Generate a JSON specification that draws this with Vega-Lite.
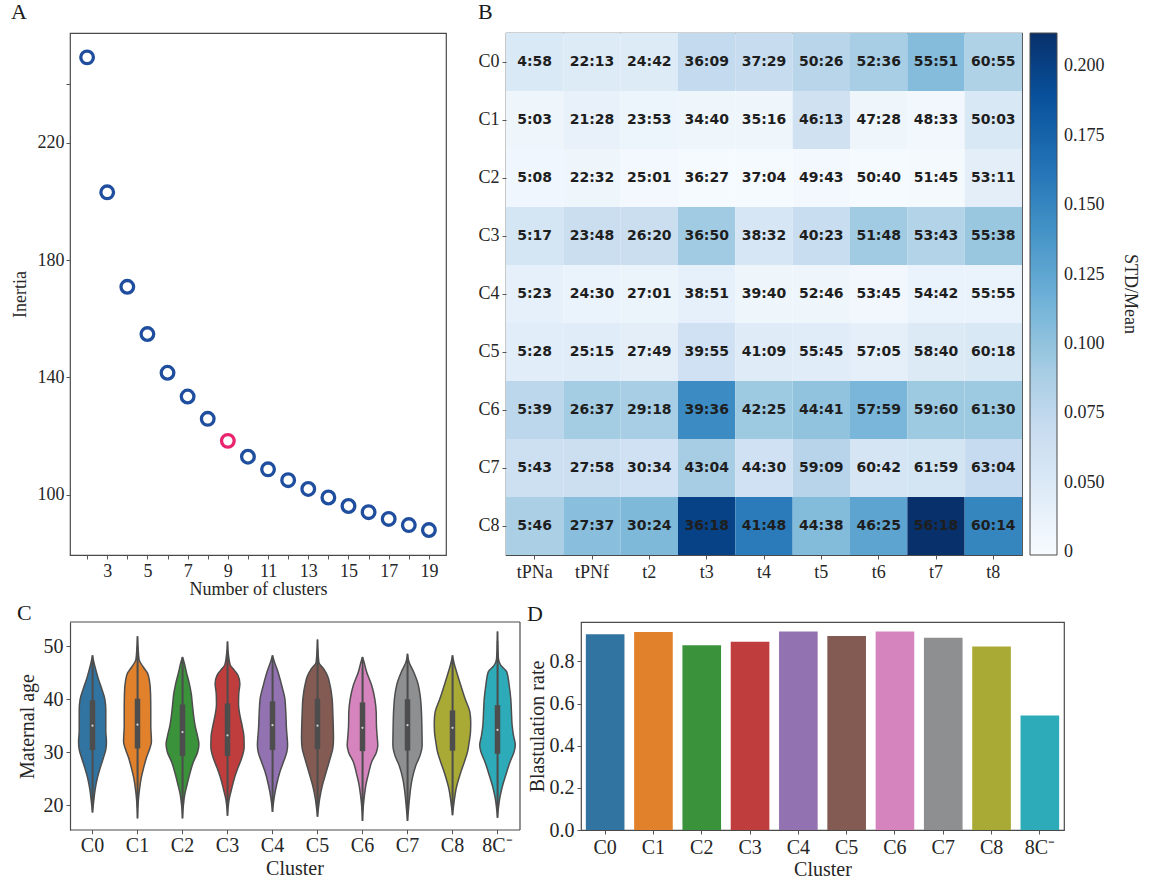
{
  "$schema": "https://vega.github.io/schema/vega-lite/v6.json",
  "background": "white",
  "padding": {"left": 10, "top": 0, "right": 4, "bottom": 0},
  "datasets": {
    "inertia": [
      {"k": 2, "inertia": 249.1}, {"k": 3, "inertia": 203.1}, {"k": 4, "inertia": 170.9},
      {"k": 5, "inertia": 154.8}, {"k": 6, "inertia": 141.6}, {"k": 7, "inertia": 133.5},
      {"k": 8, "inertia": 125.9}, {"k": 9, "inertia": 118.4}, {"k": 10, "inertia": 113.0},
      {"k": 11, "inertia": 108.7}, {"k": 12, "inertia": 105.0}, {"k": 13, "inertia": 102.0},
      {"k": 14, "inertia": 99.1}, {"k": 15, "inertia": 96.2}, {"k": 16, "inertia": 94.1},
      {"k": 17, "inertia": 91.8}, {"k": 18, "inertia": 89.7}, {"k": 19, "inertia": 88.0}
    ],
    "timing": [
      {"cluster": "C0", "stage": "tPNa", "time": "4:58", "cv": 0.051},
      {"cluster": "C0", "stage": "tPNf", "time": "22:13", "cv": 0.048},
      {"cluster": "C0", "stage": "t2", "time": "24:42", "cv": 0.048},
      {"cluster": "C0", "stage": "t3", "time": "36:09", "cv": 0.072},
      {"cluster": "C0", "stage": "t4", "time": "37:29", "cv": 0.069},
      {"cluster": "C0", "stage": "t5", "time": "50:26", "cv": 0.079},
      {"cluster": "C0", "stage": "t6", "time": "52:36", "cv": 0.089},
      {"cluster": "C0", "stage": "t7", "time": "55:51", "cv": 0.106},
      {"cluster": "C0", "stage": "t8", "time": "60:55", "cv": 0.084},
      {"cluster": "C1", "stage": "tPNa", "time": "5:03", "cv": 0.032},
      {"cluster": "C1", "stage": "tPNf", "time": "21:28", "cv": 0.038},
      {"cluster": "C1", "stage": "t2", "time": "23:53", "cv": 0.033},
      {"cluster": "C1", "stage": "t3", "time": "34:40", "cv": 0.032},
      {"cluster": "C1", "stage": "t4", "time": "35:16", "cv": 0.032},
      {"cluster": "C1", "stage": "t5", "time": "46:13", "cv": 0.061},
      {"cluster": "C1", "stage": "t6", "time": "47:28", "cv": 0.032},
      {"cluster": "C1", "stage": "t7", "time": "48:33", "cv": 0.030},
      {"cluster": "C1", "stage": "t8", "time": "50:03", "cv": 0.052},
      {"cluster": "C2", "stage": "tPNa", "time": "5:08", "cv": 0.031},
      {"cluster": "C2", "stage": "tPNf", "time": "22:32", "cv": 0.032},
      {"cluster": "C2", "stage": "t2", "time": "25:01", "cv": 0.029},
      {"cluster": "C2", "stage": "t3", "time": "36:27", "cv": 0.026},
      {"cluster": "C2", "stage": "t4", "time": "37:04", "cv": 0.026},
      {"cluster": "C2", "stage": "t5", "time": "49:43", "cv": 0.028},
      {"cluster": "C2", "stage": "t6", "time": "50:40", "cv": 0.026},
      {"cluster": "C2", "stage": "t7", "time": "51:45", "cv": 0.027},
      {"cluster": "C2", "stage": "t8", "time": "53:11", "cv": 0.043},
      {"cluster": "C3", "stage": "tPNa", "time": "5:17", "cv": 0.057},
      {"cluster": "C3", "stage": "tPNf", "time": "23:48", "cv": 0.067},
      {"cluster": "C3", "stage": "t2", "time": "26:20", "cv": 0.067},
      {"cluster": "C3", "stage": "t3", "time": "36:50", "cv": 0.093},
      {"cluster": "C3", "stage": "t4", "time": "38:32", "cv": 0.055},
      {"cluster": "C3", "stage": "t5", "time": "40:23", "cv": 0.068},
      {"cluster": "C3", "stage": "t6", "time": "51:48", "cv": 0.093},
      {"cluster": "C3", "stage": "t7", "time": "53:43", "cv": 0.082},
      {"cluster": "C3", "stage": "t8", "time": "55:38", "cv": 0.097},
      {"cluster": "C4", "stage": "tPNa", "time": "5:23", "cv": 0.040},
      {"cluster": "C4", "stage": "tPNf", "time": "24:30", "cv": 0.036},
      {"cluster": "C4", "stage": "t2", "time": "27:01", "cv": 0.035},
      {"cluster": "C4", "stage": "t3", "time": "38:51", "cv": 0.040},
      {"cluster": "C4", "stage": "t4", "time": "39:40", "cv": 0.032},
      {"cluster": "C4", "stage": "t5", "time": "52:46", "cv": 0.032},
      {"cluster": "C4", "stage": "t6", "time": "53:45", "cv": 0.030},
      {"cluster": "C4", "stage": "t7", "time": "54:42", "cv": 0.036},
      {"cluster": "C4", "stage": "t8", "time": "55:55", "cv": 0.036},
      {"cluster": "C5", "stage": "tPNa", "time": "5:28", "cv": 0.045},
      {"cluster": "C5", "stage": "tPNf", "time": "25:15", "cv": 0.046},
      {"cluster": "C5", "stage": "t2", "time": "27:49", "cv": 0.043},
      {"cluster": "C5", "stage": "t3", "time": "39:55", "cv": 0.062},
      {"cluster": "C5", "stage": "t4", "time": "41:09", "cv": 0.047},
      {"cluster": "C5", "stage": "t5", "time": "55:45", "cv": 0.046},
      {"cluster": "C5", "stage": "t6", "time": "57:05", "cv": 0.042},
      {"cluster": "C5", "stage": "t7", "time": "58:40", "cv": 0.049},
      {"cluster": "C5", "stage": "t8", "time": "60:18", "cv": 0.052},
      {"cluster": "C6", "stage": "tPNa", "time": "5:39", "cv": 0.077},
      {"cluster": "C6", "stage": "tPNf", "time": "26:37", "cv": 0.091},
      {"cluster": "C6", "stage": "t2", "time": "29:18", "cv": 0.089},
      {"cluster": "C6", "stage": "t3", "time": "39:36", "cv": 0.146},
      {"cluster": "C6", "stage": "t4", "time": "42:25", "cv": 0.095},
      {"cluster": "C6", "stage": "t5", "time": "44:41", "cv": 0.100},
      {"cluster": "C6", "stage": "t6", "time": "57:59", "cv": 0.111},
      {"cluster": "C6", "stage": "t7", "time": "59:60", "cv": 0.095},
      {"cluster": "C6", "stage": "t8", "time": "61:30", "cv": 0.095},
      {"cluster": "C7", "stage": "tPNa", "time": "5:43", "cv": 0.064},
      {"cluster": "C7", "stage": "tPNf", "time": "27:58", "cv": 0.065},
      {"cluster": "C7", "stage": "t2", "time": "30:34", "cv": 0.062},
      {"cluster": "C7", "stage": "t3", "time": "43:04", "cv": 0.090},
      {"cluster": "C7", "stage": "t4", "time": "44:30", "cv": 0.062},
      {"cluster": "C7", "stage": "t5", "time": "59:09", "cv": 0.080},
      {"cluster": "C7", "stage": "t6", "time": "60:42", "cv": 0.056},
      {"cluster": "C7", "stage": "t7", "time": "61:59", "cv": 0.058},
      {"cluster": "C7", "stage": "t8", "time": "63:04", "cv": 0.071},
      {"cluster": "C8", "stage": "tPNa", "time": "5:46", "cv": 0.087},
      {"cluster": "C8", "stage": "tPNf", "time": "27:37", "cv": 0.104},
      {"cluster": "C8", "stage": "t2", "time": "30:24", "cv": 0.109},
      {"cluster": "C8", "stage": "t3", "time": "36:18", "cv": 0.199},
      {"cluster": "C8", "stage": "t4", "time": "41:48", "cv": 0.158},
      {"cluster": "C8", "stage": "t5", "time": "44:38", "cv": 0.107},
      {"cluster": "C8", "stage": "t6", "time": "46:25", "cv": 0.126},
      {"cluster": "C8", "stage": "t7", "time": "56:18", "cv": 0.212},
      {"cluster": "C8", "stage": "t8", "time": "60:14", "cv": 0.151}
    ],
    "age": [
      {"cluster": "C0", "age": 48.3, "width": 0}, {"cluster": "C0", "age": 47, "width": 0.06},
      {"cluster": "C0", "age": 45.5, "width": 0.15}, {"cluster": "C0", "age": 44, "width": 0.25},
      {"cluster": "C0", "age": 42, "width": 0.41}, {"cluster": "C0", "age": 40, "width": 0.55},
      {"cluster": "C0", "age": 38, "width": 0.59}, {"cluster": "C0", "age": 36, "width": 0.59},
      {"cluster": "C0", "age": 34, "width": 0.59}, {"cluster": "C0", "age": 32, "width": 0.62},
      {"cluster": "C0", "age": 30.5, "width": 0.59}, {"cluster": "C0", "age": 29, "width": 0.49},
      {"cluster": "C0", "age": 27, "width": 0.34}, {"cluster": "C0", "age": 25, "width": 0.21},
      {"cluster": "C0", "age": 23, "width": 0.12}, {"cluster": "C0", "age": 21, "width": 0.06},
      {"cluster": "C0", "age": 18.6, "width": 0},

      {"cluster": "C1", "age": 51.9, "width": 0}, {"cluster": "C1", "age": 49.5, "width": 0.03},
      {"cluster": "C1", "age": 47.5, "width": 0.07}, {"cluster": "C1", "age": 46, "width": 0.27},
      {"cluster": "C1", "age": 45, "width": 0.44}, {"cluster": "C1", "age": 43.5, "width": 0.53},
      {"cluster": "C1", "age": 41, "width": 0.58}, {"cluster": "C1", "age": 38, "width": 0.59},
      {"cluster": "C1", "age": 35, "width": 0.59}, {"cluster": "C1", "age": 32, "width": 0.62},
      {"cluster": "C1", "age": 30.5, "width": 0.53}, {"cluster": "C1", "age": 29, "width": 0.40},
      {"cluster": "C1", "age": 27, "width": 0.27}, {"cluster": "C1", "age": 25, "width": 0.16},
      {"cluster": "C1", "age": 23, "width": 0.09}, {"cluster": "C1", "age": 21, "width": 0.04},
      {"cluster": "C1", "age": 17.5, "width": 0},

      {"cluster": "C2", "age": 48, "width": 0}, {"cluster": "C2", "age": 47, "width": 0.07},
      {"cluster": "C2", "age": 45, "width": 0.18}, {"cluster": "C2", "age": 43, "width": 0.30},
      {"cluster": "C2", "age": 41, "width": 0.39}, {"cluster": "C2", "age": 39, "width": 0.44},
      {"cluster": "C2", "age": 37, "width": 0.49}, {"cluster": "C2", "age": 35, "width": 0.56},
      {"cluster": "C2", "age": 33, "width": 0.67}, {"cluster": "C2", "age": 31.5, "width": 0.73},
      {"cluster": "C2", "age": 30, "width": 0.67}, {"cluster": "C2", "age": 28, "width": 0.47},
      {"cluster": "C2", "age": 26, "width": 0.33}, {"cluster": "C2", "age": 24, "width": 0.21},
      {"cluster": "C2", "age": 22, "width": 0.10}, {"cluster": "C2", "age": 20, "width": 0.04},
      {"cluster": "C2", "age": 17.5, "width": 0},

      {"cluster": "C3", "age": 50.9, "width": 0}, {"cluster": "C3", "age": 48.5, "width": 0.04},
      {"cluster": "C3", "age": 46.5, "width": 0.12}, {"cluster": "C3", "age": 45.5, "width": 0.30},
      {"cluster": "C3", "age": 44.5, "width": 0.47}, {"cluster": "C3", "age": 43, "width": 0.55},
      {"cluster": "C3", "age": 41, "width": 0.50}, {"cluster": "C3", "age": 39, "width": 0.49},
      {"cluster": "C3", "age": 37, "width": 0.55}, {"cluster": "C3", "age": 35, "width": 0.65},
      {"cluster": "C3", "age": 33, "width": 0.73}, {"cluster": "C3", "age": 31, "width": 0.74},
      {"cluster": "C3", "age": 29, "width": 0.64}, {"cluster": "C3", "age": 27, "width": 0.46},
      {"cluster": "C3", "age": 25, "width": 0.30}, {"cluster": "C3", "age": 23, "width": 0.18},
      {"cluster": "C3", "age": 21, "width": 0.07}, {"cluster": "C3", "age": 18, "width": 0},

      {"cluster": "C4", "age": 48.3, "width": 0}, {"cluster": "C4", "age": 47, "width": 0.09},
      {"cluster": "C4", "age": 45.2, "width": 0.24}, {"cluster": "C4", "age": 42.6, "width": 0.41},
      {"cluster": "C4", "age": 40.1, "width": 0.55}, {"cluster": "C4", "age": 37.6, "width": 0.59},
      {"cluster": "C4", "age": 34.5, "width": 0.62}, {"cluster": "C4", "age": 31.3, "width": 0.67},
      {"cluster": "C4", "age": 30.1, "width": 0.64}, {"cluster": "C4", "age": 28.2, "width": 0.49},
      {"cluster": "C4", "age": 26.3, "width": 0.33}, {"cluster": "C4", "age": 23.8, "width": 0.18},
      {"cluster": "C4", "age": 21.3, "width": 0.07}, {"cluster": "C4", "age": 18.7, "width": 0},

      {"cluster": "C5", "age": 51.3, "width": 0}, {"cluster": "C5", "age": 47, "width": 0.06},
      {"cluster": "C5", "age": 45.8, "width": 0.27}, {"cluster": "C5", "age": 44.5, "width": 0.44},
      {"cluster": "C5", "age": 42.6, "width": 0.56}, {"cluster": "C5", "age": 40.1, "width": 0.65},
      {"cluster": "C5", "age": 37.6, "width": 0.68}, {"cluster": "C5", "age": 35.1, "width": 0.70},
      {"cluster": "C5", "age": 32.6, "width": 0.71}, {"cluster": "C5", "age": 30.7, "width": 0.68},
      {"cluster": "C5", "age": 28.8, "width": 0.56}, {"cluster": "C5", "age": 26.3, "width": 0.39},
      {"cluster": "C5", "age": 23.8, "width": 0.22}, {"cluster": "C5", "age": 21.3, "width": 0.10},
      {"cluster": "C5", "age": 19.4, "width": 0.04}, {"cluster": "C5", "age": 17.8, "width": 0},

      {"cluster": "C6", "age": 48, "width": 0}, {"cluster": "C6", "age": 47, "width": 0.07},
      {"cluster": "C6", "age": 45.2, "width": 0.18}, {"cluster": "C6", "age": 42.6, "width": 0.41},
      {"cluster": "C6", "age": 40, "width": 0.55}, {"cluster": "C6", "age": 37.5, "width": 0.61},
      {"cluster": "C6", "age": 35, "width": 0.62}, {"cluster": "C6", "age": 33, "width": 0.65},
      {"cluster": "C6", "age": 31.3, "width": 0.68}, {"cluster": "C6", "age": 30, "width": 0.62},
      {"cluster": "C6", "age": 28.2, "width": 0.41}, {"cluster": "C6", "age": 26, "width": 0.27},
      {"cluster": "C6", "age": 24, "width": 0.16}, {"cluster": "C6", "age": 22, "width": 0.09},
      {"cluster": "C6", "age": 20, "width": 0.04}, {"cluster": "C6", "age": 17, "width": 0},

      {"cluster": "C7", "age": 48.6, "width": 0}, {"cluster": "C7", "age": 47, "width": 0.07},
      {"cluster": "C7", "age": 45.2, "width": 0.27}, {"cluster": "C7", "age": 43.3, "width": 0.44},
      {"cluster": "C7", "age": 40.8, "width": 0.56}, {"cluster": "C7", "age": 37.6, "width": 0.62},
      {"cluster": "C7", "age": 34.5, "width": 0.64}, {"cluster": "C7", "age": 31.3, "width": 0.65},
      {"cluster": "C7", "age": 29.4, "width": 0.56}, {"cluster": "C7", "age": 27.5, "width": 0.37},
      {"cluster": "C7", "age": 25, "width": 0.21}, {"cluster": "C7", "age": 22.5, "width": 0.12},
      {"cluster": "C7", "age": 20, "width": 0.06}, {"cluster": "C7", "age": 17, "width": 0},

      {"cluster": "C8", "age": 48.3, "width": 0}, {"cluster": "C8", "age": 47, "width": 0.06},
      {"cluster": "C8", "age": 45.2, "width": 0.18}, {"cluster": "C8", "age": 42.6, "width": 0.37},
      {"cluster": "C8", "age": 40.1, "width": 0.56}, {"cluster": "C8", "age": 37.6, "width": 0.77},
      {"cluster": "C8", "age": 35.7, "width": 0.81}, {"cluster": "C8", "age": 33.8, "width": 0.80},
      {"cluster": "C8", "age": 31.9, "width": 0.74}, {"cluster": "C8", "age": 30.1, "width": 0.67},
      {"cluster": "C8", "age": 28.2, "width": 0.53}, {"cluster": "C8", "age": 25.7, "width": 0.33},
      {"cluster": "C8", "age": 23.1, "width": 0.16}, {"cluster": "C8", "age": 20.6, "width": 0.07},
      {"cluster": "C8", "age": 18.1, "width": 0},

      {"cluster": "8C⁻", "age": 52.8, "width": 0}, {"cluster": "8C⁻", "age": 47.7, "width": 0.04},
      {"cluster": "8C⁻", "age": 46.4, "width": 0.15}, {"cluster": "8C⁻", "age": 45.2, "width": 0.41},
      {"cluster": "8C⁻", "age": 42.6, "width": 0.52}, {"cluster": "8C⁻", "age": 40.1, "width": 0.59},
      {"cluster": "8C⁻", "age": 37.6, "width": 0.62}, {"cluster": "8C⁻", "age": 35.1, "width": 0.65},
      {"cluster": "8C⁻", "age": 33.2, "width": 0.71}, {"cluster": "8C⁻", "age": 31.3, "width": 0.79},
      {"cluster": "8C⁻", "age": 30.1, "width": 0.74}, {"cluster": "8C⁻", "age": 28.2, "width": 0.56},
      {"cluster": "8C⁻", "age": 25.7, "width": 0.37}, {"cluster": "8C⁻", "age": 23.1, "width": 0.19},
      {"cluster": "8C⁻", "age": 21.3, "width": 0.10}, {"cluster": "8C⁻", "age": 17.6, "width": 0},

      {"cluster": "C0", "q1": 30.4, "q3": 39.8, "median": 35.0, "lo": 20.5, "hi": 46.5},
      {"cluster": "C1", "q1": 30.7, "q3": 40.1, "median": 35.2, "lo": 19.5, "hi": 50.0},
      {"cluster": "C2", "q1": 29.3, "q3": 39.0, "median": 33.8, "lo": 19.5, "hi": 46.0},
      {"cluster": "C3", "q1": 29.3, "q3": 39.2, "median": 33.2, "lo": 20.0, "hi": 49.0},
      {"cluster": "C4", "q1": 30.4, "q3": 39.6, "median": 35.1, "lo": 20.5, "hi": 46.5},
      {"cluster": "C5", "q1": 30.6, "q3": 40.1, "median": 35.0, "lo": 19.8, "hi": 49.5},
      {"cluster": "C6", "q1": 30.2, "q3": 39.4, "median": 34.6, "lo": 19.0, "hi": 46.0},
      {"cluster": "C7", "q1": 30.3, "q3": 40.0, "median": 35.1, "lo": 19.0, "hi": 46.5},
      {"cluster": "C8", "q1": 30.3, "q3": 37.9, "median": 34.6, "lo": 20.0, "hi": 46.5},
      {"cluster": "8C⁻", "q1": 29.7, "q3": 38.9, "median": 34.2, "lo": 19.5, "hi": 51.0}
    ],
    "blast": [
      {"cluster": "C0", "rate": 0.929}, {"cluster": "C1", "rate": 0.939},
      {"cluster": "C2", "rate": 0.877}, {"cluster": "C3", "rate": 0.893},
      {"cluster": "C4", "rate": 0.942}, {"cluster": "C5", "rate": 0.920},
      {"cluster": "C6", "rate": 0.942}, {"cluster": "C7", "rate": 0.912},
      {"cluster": "C8", "rate": 0.871}, {"cluster": "8C⁻", "rate": 0.543}
    ]
  },
  "config": {
    "font": "Liberation Serif",
    "view": {"stroke": "#4a4a4a", "strokeWidth": 1.2},
    "axis": {
      "grid": false, "domain": false,
      "labelFont": "Liberation Serif", "titleFont": "Liberation Serif",
      "labelFontSize": 18, "titleFontSize": 18, "titleFontWeight": "normal",
      "labelColor": "#262626", "titleColor": "#262626",
      "tickColor": "#555555", "tickSize": 4, "tickWidth": 1,
      "labelFlush": false, "labelOverlap": false
    },
    "title": {"anchor": "start", "frame": "bounds", "font": "Liberation Serif", "fontSize": 22, "fontWeight": "normal", "color": "#1a1a1a"},
    "header": {"labelFont": "Liberation Serif", "titleFont": "Liberation Serif", "labelColor": "#262626", "titleColor": "#262626", "titleFontWeight": "normal"}
  },
  "spacing": 3,
  "resolve": {"scale": {"color": "independent", "fill": "independent"}, "legend": {"color": "independent", "fill": "independent"}},
  "vconcat": [
    {
      "spacing": 30,
      "resolve": {"scale": {"color": "independent", "fill": "independent"}, "legend": {"color": "independent", "fill": "independent"}},
      "hconcat": [
        {
          "data": {"name": "inertia"},
          "title": {"text": "A", "offset": 9},
          "width": 376,
          "height": 522,
          "mark": {"type": "point", "filled": false, "size": 160, "strokeWidth": 3.3, "opacity": 1},
          "encoding": {
            "x": {
              "field": "k", "type": "quantitative",
              "scale": {"domain": [1.15, 19.85], "nice": false, "zero": false},
              "axis": {"values": [2, 3, 4, 5, 6, 7, 8, 9, 10, 11, 12, 13, 14, 15, 16, 17, 18, 19],
                       "labelExpr": "datum.value % 2 == 1 ? datum.label : ''",
                       "title": "Number of clusters", "labelPadding": 3, "titlePadding": 0}
            },
            "y": {
              "field": "inertia", "type": "quantitative",
              "scale": {"domain": [79.5, 257.4], "nice": false, "zero": false},
              "axis": {"values": [100, 140, 180, 220, 240],
                       "labelExpr": "datum.value == 240 ? '' : datum.label",
                       "title": "Inertia", "titlePadding": 8}
            },
            "stroke": {"condition": {"test": "datum.k == 9", "value": "#e8246e"}, "value": "#1f4e9f"}
          }
        },
        {
          "data": {"name": "timing"},
          "title": {"text": "B", "offset": 9},
          "width": 516,
          "height": 522,
          "encoding": {
            "x": {"field": "stage", "type": "nominal",
                  "sort": ["tPNa", "tPNf", "t2", "t3", "t4", "t5", "t6", "t7", "t8"],
                  "axis": {"title": null, "labelAngle": 0, "labelPadding": 4}},
            "y": {"field": "cluster", "type": "nominal",
                  "sort": ["C0", "C1", "C2", "C3", "C4", "C5", "C6", "C7", "C8"],
                  "axis": {"title": null, "labelPadding": 3}}
          },
          "layer": [
            {
              "mark": {"type": "rect"},
              "encoding": {
                "color": {
                  "field": "cv", "type": "quantitative",
                  "scale": {
                    "domain": [0.024, 0.0475, 0.071, 0.0945, 0.118, 0.1415, 0.165, 0.1885, 0.212],
                    "range": ["#f7fbff", "#deebf7", "#c6dbef", "#9ecae1", "#6baed6", "#4292c6", "#2171b5", "#08519c", "#08306b"],
                    "interpolate": "rgb", "clamp": true
                  },
                  "legend": {
                    "title": "STD/Mean", "orient": "right", "direction": "vertical",
                    "titleOrient": "right", "titleAngle": 90, "titleAnchor": "middle",
                    "titleFont": "Liberation Serif", "titleFontSize": 18, "titleFontWeight": "normal",
                    "titleColor": "#262626", "titlePadding": 16,
                    "values": [0.025, 0.05, 0.075, 0.1, 0.125, 0.15, 0.175, 0.2],
                    "labelExpr": "datum.value < 0.03 ? '0' : format(datum.value, '.3f')",
                    "labelFont": "Liberation Serif", "labelFontSize": 18, "labelColor": "#262626",
                    "labelOffset": 7, "labelOverlap": false,
                    "gradientLength": 522, "gradientThickness": 27,
                    "gradientStrokeColor": "#4a4a4a", "gradientStrokeWidth": 1,
                    "offset": 8
                  }
                }
              }
            },
            {
              "mark": {"type": "text", "font": "DejaVu Sans", "fontWeight": "bold", "fontSize": 14, "color": "#1e1e1e"},
              "encoding": {"text": {"field": "time", "type": "nominal"}}
            }
          ]
        }
      ]
    },
    {
      "spacing": 5,
      "hconcat": [
        {
          "data": {"name": "age"},
          "title": {"text": "C", "offset": -4},
          "bounds": "flush",
          "facet": {
            "column": {
              "field": "cluster", "type": "nominal",
              "sort": ["C0", "C1", "C2", "C3", "C4", "C5", "C6", "C7", "C8", "8C⁻"],
              "header": {"labelOrient": "bottom", "titleOrient": "bottom", "title": "Cluster",
                         "labelFontSize": 20, "titleFontSize": 20, "labelPadding": 6, "titlePadding": -7}
            }
          },
          "spacing": 0,
          "spec": {
            "width": 45,
            "height": 208,
            "view": {"stroke": null},
            "resolve": {"scale": {"x": "independent"}},
            "layer": [
              {
                "transform": [{"filter": "isValid(datum.width)"}],
                "mark": {"type": "area", "orient": "horizontal", "interpolate": "monotone", "stroke": "#4d4d4d", "strokeWidth": 1.5},
                "encoding": {
                  "y": {"field": "age", "type": "quantitative", "title": "Maternal age",
                        "scale": {"domain": [15.3, 54.6], "nice": false, "zero": false},
                        "axis": {"values": [20, 25, 30, 35, 40, 45, 50], "domain": true, "domainColor": "#4a4a4a", "domainWidth": 1.2,
                                 "labelFontSize": 20, "titleFontSize": 20, "titlePadding": 6, "labelPadding": 3}},
                  "x": {"field": "width", "type": "quantitative",
                        "scale": {"domain": [-1, 1], "nice": false, "zero": false},
                        "axis": null},
                  "fill": {"field": "cluster", "type": "nominal",
                           "scale": {"domain": ["C0", "C1", "C2", "C3", "C4", "C5", "C6", "C7", "C8", "8C⁻"],
                                     "range": ["#3274a1", "#e1812c", "#3a923a", "#c03d3e", "#9372b2", "#845b53", "#d684bd", "#8e8f91", "#a9aa35", "#2eabb8"]},
                           "legend": null}
                }
              },
              {
                "transform": [{"filter": "isValid(datum.width)"}],
                "mark": {"type": "area", "orient": "horizontal", "interpolate": "monotone", "stroke": "#4d4d4d", "strokeWidth": 1.5},
                "encoding": {
                  "y": {"field": "age", "type": "quantitative", "title": "Maternal age",
                        "scale": {"domain": [15.3, 54.6], "nice": false, "zero": false}},
                  "x": {"field": "width", "type": "quantitative",
                        "scale": {"domain": [-1, 1], "nice": false, "zero": false, "reverse": true},
                        "axis": null},
                  "fill": {"field": "cluster", "type": "nominal",
                           "scale": {"domain": ["C0", "C1", "C2", "C3", "C4", "C5", "C6", "C7", "C8", "8C⁻"],
                                     "range": ["#3274a1", "#e1812c", "#3a923a", "#c03d3e", "#9372b2", "#845b53", "#d684bd", "#8e8f91", "#a9aa35", "#2eabb8"]},
                           "legend": null}
                }
              },
              {
                "transform": [{"filter": "isValid(datum.q1)"}],
                "mark": {"type": "rule", "color": "#4d4d4d", "strokeWidth": 1.5},
                "encoding": {
                  "y": {"field": "lo", "type": "quantitative", "title": "Maternal age",
                        "scale": {"domain": [15.3, 54.6], "nice": false, "zero": false}},
                  "y2": {"field": "hi"}
                }
              },
              {
                "transform": [{"filter": "isValid(datum.q1)"}],
                "mark": {"type": "rule", "color": "#4d4d4d", "strokeWidth": 5.5},
                "encoding": {
                  "y": {"field": "q1", "type": "quantitative", "title": "Maternal age",
                        "scale": {"domain": [15.3, 54.6], "nice": false, "zero": false}},
                  "y2": {"field": "q3"}
                }
              },
              {
                "transform": [{"filter": "isValid(datum.q1)"}],
                "mark": {"type": "point", "filled": true, "color": "#f2f2f2", "size": 5, "opacity": 0.8},
                "encoding": {
                  "y": {"field": "median", "type": "quantitative", "title": "Maternal age",
                        "scale": {"domain": [15.3, 54.6], "nice": false, "zero": false}}
                }
              },
              {
                "transform": [{"filter": "isValid(datum.q1)"}],
                "mark": {"type": "rule", "color": "#4a4a4a", "strokeWidth": 1.2},
                "encoding": {
                  "y": {"datum": 54.6, "type": "quantitative", "title": "Maternal age",
                        "scale": {"domain": [15.3, 54.6], "nice": false, "zero": false}}
                }
              },
              {
                "transform": [{"filter": "isValid(datum.q1)"}],
                "mark": {"type": "rule", "color": "#4a4a4a", "strokeWidth": 1.2},
                "encoding": {
                  "y": {"datum": 15.3, "type": "quantitative", "title": "Maternal age",
                        "scale": {"domain": [15.3, 54.6], "nice": false, "zero": false}}
                }
              },
              {
                "transform": [{"filter": "isValid(datum.q1)"}],
                "mark": {"type": "rule", "color": "#555555", "strokeWidth": 1},
                "encoding": {
                  "y": {"datum": 15.3, "type": "quantitative", "title": "Maternal age",
                        "scale": {"domain": [15.3, 54.6], "nice": false, "zero": false}},
                  "y2": {"datum": 14.5}
                }
              },
              {
                "transform": [{"filter": "datum.cluster === '8C⁻' && isValid(datum.q1)"}],
                "mark": {"type": "rule", "color": "#4a4a4a", "strokeWidth": 1.2},
                "encoding": {
                  "x": {"datum": 1, "type": "quantitative", "scale": {"domain": [-1, 1], "nice": false}, "axis": null}
                }
              }
            ]
          }
        },
        {
          "data": {"name": "blast"},
          "title": {"text": "D", "offset": -4},
          "width": 483,
          "height": 208,
          "mark": {"type": "bar"},
          "encoding": {
            "x": {"field": "cluster", "type": "nominal",
                  "sort": ["C0", "C1", "C2", "C3", "C4", "C5", "C6", "C7", "C8", "8C⁻"],
                  "scale": {"paddingInner": 0.2, "paddingOuter": 0.1},
                  "axis": {"title": "Cluster", "labelAngle": 0, "labelFontSize": 20, "titleFontSize": 20, "labelPadding": 3, "titlePadding": 2}},
            "y": {"field": "rate", "type": "quantitative",
                  "scale": {"domain": [0, 0.987], "nice": false},
                  "axis": {"title": "Blastulation rate", "values": [0, 0.2, 0.4, 0.6, 0.8], "format": ".1f",
                           "labelFontSize": 20, "titleFontSize": 20, "titlePadding": 2, "labelPadding": 3}},
            "fill": {"field": "cluster", "type": "nominal",
                     "scale": {"domain": ["C0", "C1", "C2", "C3", "C4", "C5", "C6", "C7", "C8", "8C⁻"],
                               "range": ["#3274a1", "#e1812c", "#3a923a", "#c03d3e", "#9372b2", "#845b53", "#d684bd", "#8e8f91", "#a9aa35", "#2eabb8"]},
                     "legend": null}
          }
        }
      ]
    }
  ]
}
